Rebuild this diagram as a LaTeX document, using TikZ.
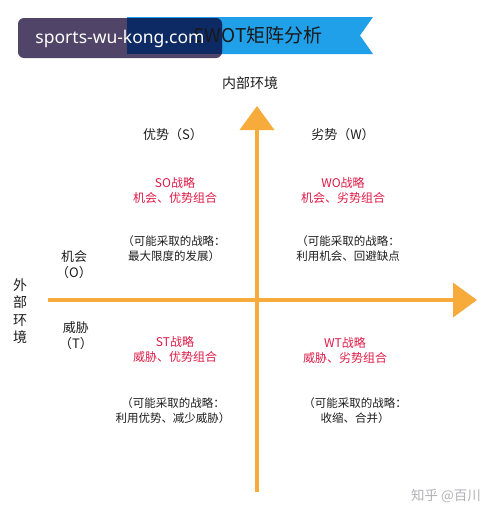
\documentclass[tikz,border=0pt]{standalone}
\usepackage{fontspec}
\setmainfont{Noto Sans CJK SC}
\newfontfamily\latinsans{Noto Sans}
\usetikzlibrary{arrows.meta}
\definecolor{axisorange}{RGB}{246,171,58}
\definecolor{ribbonblue}{RGB}{31,160,232}
\definecolor{overlaywhite}{RGB}{80,68,104}
\definecolor{overlayblue}{RGB}{14,42,100}
\definecolor{stratred}{RGB}{222,28,72}
\definecolor{txtgray}{RGB}{30,30,30}
\definecolor{wmgray}{RGB}{178,178,182}
\tikzset{
  axisline/.style={draw=axisorange, line width=4pt,
    -{Triangle[width=34pt,length=24pt,fill=axisorange]}},
  quadhead/.style={font=\fontsize{13}{15}\selectfont, text=txtgray},
  redtxt/.style={font=\fontsize{12}{15}\selectfont, text=stratred, align=center},
  graytxt/.style={font=\fontsize{11.5}{15}\selectfont, text=txtgray, align=center},
  sidelbl/.style={font=\fontsize{13}{16}\selectfont, text=txtgray, align=center},
}
\begin{document}
\begin{tikzpicture}[x=1pt,y=-1pt]
\useasboundingbox[fill=white] (0,0) rectangle (500,515);
% ribbon banner
\fill[ribbonblue] (127,17) -- (373,17) -- (360,35.5) -- (373,54) -- (127,54) -- cycle;
% dark overlay (opaque, two tones)
\fill[overlaywhite, rounded corners=6pt] (18,18) rectangle (222,58);
\begin{scope}
  \clip[rounded corners=6pt] (18,18) rectangle (222,58);
  \fill[overlayblue] (127,17) rectangle (230,54);
\end{scope}
\node[font=\fontsize{19}{22}\selectfont, text=black!90] (title) at (258,35.5) {SWOT矩阵分析};
\node[font=\latinsans\fontsize{17.5}{20}\selectfont, text=white] (site) at (120,38.5) {sports-wu-kong.com};
% axes
\coordinate (vbot) at (257,492);
\coordinate (vtop) at (257,106);
\coordinate (hleft) at (48,300);
\coordinate (hright) at (477,300);
\draw[axisline] (vbot) -- (vtop);
\draw[axisline] (hleft) -- (hright);
% labels
\node[font=\fontsize{14}{16}\selectfont, text=txtgray] (internal) at (250,83) {内部环境};
\node[font=\fontsize{14}{17.5}\selectfont, text=txtgray, align=center] (external) at (20,311) {外\\部\\环\\境};
\node[quadhead] (S) at (173,135) {优势（S）};
\node[quadhead] (W) at (343,135) {劣势（W）};
\node[sidelbl] (O) at (74,265) {机会\\（O）};
\node[sidelbl] (T) at (76,336) {威胁\\（T）};
% strategies
\node[redtxt] (SO) at (175,190) {SO战略\\机会、优势组合};
\node[redtxt] (WO) at (343,190) {WO战略\\机会、劣势组合};
\node[redtxt] (ST) at (175,349.5) {ST战略\\威胁、优势组合};
\node[redtxt] (WT) at (345,350.5) {WT战略\\威胁、劣势组合};
\node[graytxt] (SOa) at (174,248.5) {（可能采取的战略：\\最大限度的发展）};
\node[graytxt] (WOa) at (348,248.5) {（可能采取的战略：\\利用机会、回避缺点};
\node[graytxt] (STa) at (173,410.5) {（可能采取的战略：\\利用优势、减少威胁）};
\node[graytxt] (WTa) at (355,410.5) {（可能采取的战略：\\收缩、合并）};
% watermark
\node[font=\fontsize{13.5}{16}\selectfont, text=wmgray] (wm) at (446,496) {知乎 @百川};
\end{tikzpicture}
\end{document}
